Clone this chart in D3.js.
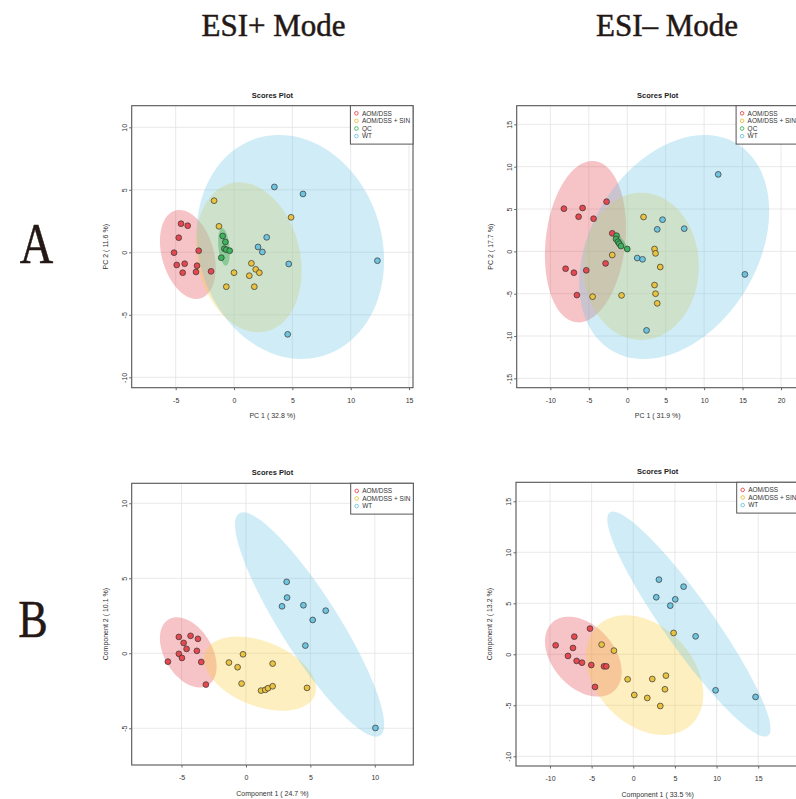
<!DOCTYPE html>
<html>
<head>
<meta charset="utf-8">
<script src="https://cdn.jsdelivr.net/npm/d3@7"></script>
<style>
  body { margin: 0; background: #fff; }
  svg { display: block; }
  .tick text { font-family: "Liberation Sans", Arial, sans-serif; font-size: 7px; fill: #333; }
  .tick line { stroke: #666; }
</style>
</head>
<body>
<svg id="chart"></svg>
<script>
// groups and legends
const groupsPca = ["AOM/DSS", "AOM/DSS + SIN", "QC", "WT"];
const groupsPls = ["AOM/DSS", "AOM/DSS + SIN", "WT"];

// ---- ESI+ PCA scores (PC1, PC2)
const posPcaAom = [[-4.54, 2.29], [-3.97, 2.13], [-4.74, 1.17], [-5.14, -0.03], [-3.03, 0.13], [-4.91, -1.01],
  [-4.23, -0.91], [-3.17, -1.07], [-4.4, -1.63], [-3.26, -1.57], [-1.97, -1.52]];
const posPcaSin = [[-1.71, 4.13], [-1.29, 2.08], [4.89, 2.8], [1.49, -0.88], [1.86, -1.36], [2.17, -1.63],
  [1.31, -1.87], [0, -1.63], [-0.66, -2.75], [1.74, -2.75]];
const posPcaQc = [[-0.97, 1.31], [-0.74, 0.83], [-0.83, 0.29], [-0.66, 0.21], [-0.37, 0.13], [-1.09, -0.43]];
const posPcaWt = [[3.46, 5.23], [5.91, 4.67], [2.8, 1.2], [2.06, 0.43], [2.43, 0.03], [4.69, -0.93],
  [12.29, -0.67], [4.6, -6.56]];
// ellipses: [centre x, centre y, half width, half height, correlation]
const posPcaEllipses = [[-3.96, -0.17, 2.39, 3.56, -0.3], [1.26, -0.4, 4.54, 6.0, -0.18],
  [-0.86, 0.43, 0.5, 1.5, -0.3], [4.83, 0.43, 8.03, 8.96, -0.12]];

// ---- ESI- PCA scores
const negPcaAom = [[-8.24, 5.04], [-5.81, 5.12], [-6.33, 4.09], [-4.38, 3.86], [-2.69, 5.87], [-1.95, 2.13],
  [-8.02, -2.05], [-6.94, -2.52], [-5.33, -2.24], [-2.82, -1.42], [-6.55, -5.16]];
const negPcaSin = [[2.12, 4.06], [-1.95, -0.43], [-4.51, -5.35], [-0.74, -5.2], [3.55, 0.28], [3.68, -0.24],
  [4.29, -1.85], [3.55, -3.98], [3.68, -5.0], [3.9, -6.14]];
const negPcaQc = [[-1.39, 1.85], [-1.47, 1.46], [-1.21, 1.14], [-1.04, 0.91], [-0.82, 0.63], [0, 0.28]];
const negPcaWt = [[11.83, 9.09], [4.59, 3.74], [3.9, 2.6], [7.41, 2.68], [1.3, -0.79], [1.99, -0.94],
  [15.3, -2.72], [2.51, -9.33]];
const negPcaEllipses = [[-5.44, 1.14, 5.27, 9.53, 0.17], [1.8, -1.77, 7.52, 8.7, 0.0],
  [-0.74, 1.06, 0.95, 1.2, -0.9], [6.11, 0.51, 12.35, 13.23, 0.32]];

// ---- ESI+ PLS-DA scores
const posPlsAom = [[-5.21, 1.09], [-4.3, 1.16], [-3.73, 0.96], [-4.84, 0.69], [-4.61, 0.29], [-3.81, 0.16],
  [-5.21, -0.04], [-4.97, -0.31], [-6.06, -0.56], [-3.47, -0.58], [-3.11, -2.09]];
const posPlsSin = [[-0.23, -0.07], [-1.32, -0.62], [-0.65, -0.93], [2.07, -0.69], [-0.34, -2.02], [1.17, -2.49],
  [1.5, -2.44], [1.71, -2.33], [2.07, -2.2], [4.74, -2.31]];
const posPlsWt = [[3.16, 4.76], [3.19, 3.71], [2.8, 3.13], [4.46, 3.2], [6.19, 2.84], [5.18, 2.22],
  [4.61, 0.51], [10.05, -4.98]];
const posPlsEllipses = [[-4.48, 0.06, 2.2, 2.34, -0.4], [1.09, -1.36, 4.35, 2.47, -0.4],
  [4.94, 1.92, 5.79, 7.48, -0.89]];

// ---- ESI- PLS-DA scores
const negPlsAom = [[-5.2, 2.52], [-7.08, 1.73], [-9.32, 0.88], [-7.24, 0.62], [-7.84, -0.16], [-6.8, -0.65],
  [-6.16, -0.82], [-5.04, -1.05], [-3.52, -1.18], [-3.24, -1.18], [-4.6, -3.2]];
const negPlsSin = [[-3.8, 0.95], [-2.32, 0.36], [4.84, 2.09], [-0.68, -2.45], [2.28, -2.42], [3.92, -2.09],
  [3.8, -3.43], [0.12, -3.99], [1.68, -4.28], [3.24, -5.07]];
const negPlsWt = [[3.08, 7.32], [6.04, 6.63], [2.76, 5.59], [5.04, 5.39], [4.44, 4.77], [7.48, 1.76],
  [9.88, -3.53], [14.68, -4.18]];
const negPlsEllipses = [[-6.0, -0.23, 4.6, 3.92, -0.38], [1.36, -2.04, 7.04, 5.87, -0.32],
  [6.68, 2.96, 9.8, 11.03, -0.93]];

// ticks and axis titles
const posPcaXTicks = [-5, 0, 5, 10, 15], posPcaYTicks = [-10, -5, 0, 5, 10];
const negPcaXTicks = [-10, -5, 0, 5, 10, 15, 20], negPcaYTicks = [-15, -10, -5, 0, 5, 10, 15];
const posPlsXTicks = [-5, 0, 5, 10], posPlsYTicks = [-5, 0, 5, 10];
const negPlsXTicks = [-10, -5, 0, 5, 10, 15], negPlsYTicks = [-10, -5, 0, 5, 10, 15];
const axisTitles = [
  ["PC 1 ( 32.8 %)", "PC 2 ( 11.6 %)"],
  ["PC 1 ( 31.9 %)", "PC 2 ( 17.7 %)"],
  ["Component 1 ( 24.7 %)", "Component 2 ( 10.1 %)"],
  ["Component 1 ( 33.5 %)", "Component 2 ( 13.2 %)"]
];

const pointColors = { "AOM/DSS": "#e5484f", "AOM/DSS + SIN": "#e9c23f", "QC": "#3db35c", "WT": "#6fc4df" };
const ellipseColors = { "AOM/DSS": "rgba(228,70,80,0.32)", "AOM/DSS + SIN": "rgba(250,205,60,0.32)",
  "QC": "rgba(60,175,90,0.45)", "WT": "rgba(100,195,228,0.3)" };
// ellipses stack: WT goes over the two treatment groups, QC on top
const ellipseOrder = ["AOM/DSS", "AOM/DSS + SIN", "WT", "QC"];

const width = 796, height = 799;
const svg = d3.select('#chart').attr('width', width).attr('height', height);
const sans = '"Liberation Sans", Arial, sans-serif';
const serif = '"Liberation Serif", "Times New Roman", serif';

// headings
function heading(tf, size, txt) {
  svg.append('text').attr('transform', tf).attr('text-anchor', 'middle')
    .style('font-family', serif).style('font-size', size)
    .attr('fill', '#231815').attr('stroke', '#231815').attr('stroke-width', 0.5)
    .text(txt);
}
heading('translate(273.5,36)', '31px', 'ESI+ Mode');
heading('translate(667,36)', '31px', 'ESI\u2013 Mode');
heading('translate(36.5,262.5) scale(0.8,1)', '58px', 'A');
heading('translate(33,636.5) scale(0.85,1)', '52px', 'B');

const panels = [
  { box: [131.7, 105.7, 413, 387.7], xd: [-8.77, 15.34], yd: [-10.83, 11.73], xt: posPcaXTicks, yt: posPcaYTicks,
    groups: groupsPca, pts: [posPcaAom, posPcaSin, posPcaQc, posPcaWt], ell: posPcaEllipses, titles: axisTitles[0] },
  { box: [516.7, 105.7, 798.7, 387.7], xd: [-14.38, 22.3], yd: [-16.1, 17.2], xt: negPcaXTicks, yt: negPcaYTicks,
    groups: groupsPca, pts: [negPcaAom, negPcaSin, negPcaQc, negPcaWt], ell: negPcaEllipses, titles: axisTitles[1] },
  { box: [131.7, 483.3, 413.3, 765], xd: [-8.87, 12.99], yd: [-7.45, 11.33], xt: posPlsXTicks, yt: posPlsYTicks,
    groups: groupsPls, pts: [posPlsAom, posPlsSin, posPlsWt], ell: posPlsEllipses, titles: axisTitles[2] },
  { box: [516, 482.3, 799.3, 766], xd: [-14.08, 19.93], yd: [-10.95, 16.86], xt: negPlsXTicks, yt: negPlsYTicks,
    groups: groupsPls, pts: [negPlsAom, negPlsSin, negPlsWt], ell: negPlsEllipses, titles: axisTitles[3] }
];

panels.forEach((p, i) => drawPanel(p, i));

function drawPanel(p, i) {
  const [x0, y0, x1, y1] = p.box;
  const x = d3.scaleLinear().domain(p.xd).range([x0, x1]);
  const y = d3.scaleLinear().domain(p.yd).range([y1, y0]);
  const g = svg.append('g');

  g.append('clipPath').attr('id', 'clip' + i).append('rect')
    .attr('x', x0).attr('y', y0).attr('width', x1 - x0).attr('height', y1 - y0);

  // grid
  g.append('g').selectAll('line').data(p.xt).join('line')
    .attr('x1', d => x(d)).attr('x2', d => x(d)).attr('y1', y0).attr('y2', y1)
    .attr('stroke', '#e3e3e3').attr('stroke-width', 0.8);
  g.append('g').selectAll('line').data(p.yt).join('line')
    .attr('y1', d => y(d)).attr('y2', d => y(d)).attr('x1', x0).attr('x2', x1)
    .attr('stroke', '#e3e3e3').attr('stroke-width', 0.8);

  // confidence ellipses
  const plot = g.append('g').attr('clip-path', `url(#clip${i})`);
  const line = d3.line().x(d => x(d[0])).y(d => y(d[1])).curve(d3.curveLinearClosed);
  ellipseOrder.forEach(name => {
    const k = p.groups.indexOf(name);
    if (k < 0) return;
    const [cx, cy, hw, hh, r] = p.ell[k];
    const ring = d3.range(120).map(j => {
      const t = j / 120 * 2 * Math.PI;
      return [cx + hw * Math.cos(t), cy + hh * (r * Math.cos(t) + Math.sqrt(1 - r * r) * Math.sin(t))];
    });
    plot.append('path').attr('d', line(ring)).attr('fill', ellipseColors[name]).attr('stroke', 'none');
  });

  // score points
  p.groups.forEach((name, k) => {
    plot.append('g').selectAll('circle').data(p.pts[k]).join('circle')
      .attr('cx', d => x(d[0])).attr('cy', d => y(d[1])).attr('r', 2.9)
      .attr('fill', pointColors[name]).attr('stroke', '#333').attr('stroke-width', 0.7);
  });

  // box
  g.append('rect').attr('x', x0).attr('y', y0).attr('width', x1 - x0).attr('height', y1 - y0)
    .attr('fill', 'none').attr('stroke', '#555').attr('stroke-width', 1.1);

  // axes
  const xa = g.append('g').attr('transform', `translate(0,${y1})`)
    .call(d3.axisBottom(x).tickValues(p.xt).tickSize(2.5).tickFormat(d => String(d)));
  xa.select('.domain').remove();
  xa.selectAll('text').attr('y', 15).attr('dy', 0);

  const ya = g.append('g').attr('transform', `translate(${x0},0)`)
    .call(d3.axisLeft(y).tickValues(p.yt).tickSize(2.5).tickFormat(d => String(d)));
  ya.select('.domain').remove();
  ya.selectAll('text').attr('transform', 'rotate(-90)').attr('x', 0).attr('y', -5).attr('dy', 0)
    .attr('text-anchor', 'middle');

  // titles
  const cxm = (x0 + x1) / 2;
  g.append('text').attr('x', cxm).attr('y', y0 - 8).attr('text-anchor', 'middle')
    .style('font-family', sans).style('font-size', '7.5px').style('font-weight', 'bold').attr('fill', '#222')
    .text('Scores Plot');
  g.append('text').attr('x', cxm).attr('y', y1 + 30.5).attr('text-anchor', 'middle')
    .style('font-family', sans).style('font-size', '7px').attr('fill', '#333').text(p.titles[0]);
  g.append('text').attr('transform', `translate(${x0 - 24},${(y0 + y1) / 2}) rotate(-90)`).attr('text-anchor', 'middle')
    .style('font-family', sans).style('font-size', '7px').attr('fill', '#333').text(p.titles[1]);

  // legend
  const lw = 62.6, rowH = 7.6, lh = p.groups.length * rowH + 8;
  const lg = g.append('g').attr('transform', `translate(${x1 - lw},${y0})`);
  lg.append('rect').attr('width', lw).attr('height', lh).attr('fill', '#fff')
    .attr('stroke', '#555').attr('stroke-width', 1);
  p.groups.forEach((name, k) => {
    const yy = 7.6 + k * rowH;
    lg.append('circle').attr('cx', 6).attr('cy', yy).attr('r', 1.8)
      .attr('fill', 'none').attr('stroke', pointColors[name]).attr('stroke-width', 0.9);
    lg.append('text').attr('x', 11.5).attr('y', yy + 2.3)
      .style('font-family', sans).style('font-size', '6.5px').attr('fill', '#333').text(name);
  });
}
</script>
</body>
</html>
